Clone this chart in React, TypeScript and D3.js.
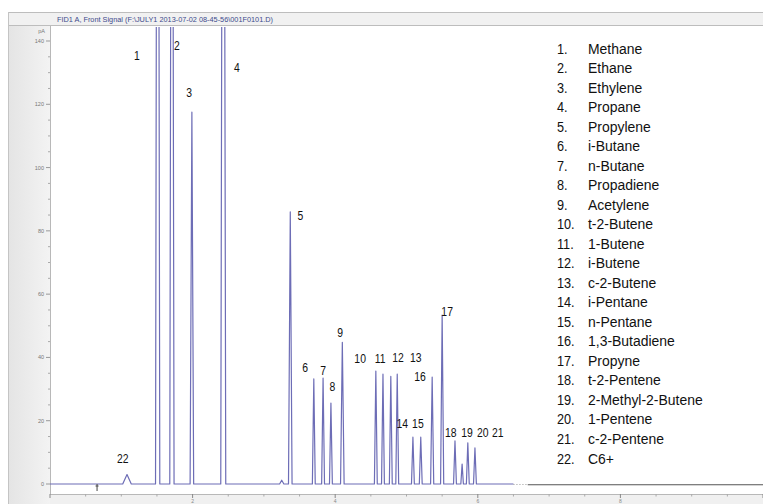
import * as d3 from 'd3';

// compound names in elution order (legend)
const compoundNames = [
  'Methane', 'Ethane', 'Ethylene', 'Propane', 'Propylene', 'i-Butane', 'n-Butane',
  'Propadiene', 'Acetylene', 't-2-Butene', '1-Butene', 'i-Butene', 'c-2-Butene',
  'i-Pentane', 'n-Pentane', '1,3-Butadiene', 'Propyne', 't-2-Pentene',
  '2-Methyl-2-Butene', '1-Pentene', 'c-2-Pentene', 'C6+',
];

// retention time (min), apex height (pA), half base width (min) for peaks 1..22
const peakTimes = [1.51, 1.71, 1.99, 2.43, 3.37, 3.70, 3.83, 3.94, 4.10, 4.57, 4.67, 4.78, 4.87, 5.09, 5.20, 5.36, 5.50, 5.68, 5.78, 5.86, 5.96, 1.08];
const peakHeights = [400, 360, 117.5, 380, 86, 33.2, 33.5, 25.6, 44.8, 35.7, 34.7, 34.0, 34.7, 14.8, 14.8, 33.8, 53.4, 13.6, 6.3, 13.0, 11.4, 3.0];
const peakWidths = [0.03, 0.03, 0.025, 0.035, 0.025, 0.02, 0.02, 0.02, 0.025, 0.02, 0.02, 0.02, 0.02, 0.02, 0.02, 0.022, 0.022, 0.02, 0.018, 0.02, 0.02, 0.06];

// unlabelled minor peaks
const minorTimes = [3.25];
const minorHeights = [1.2];
const minorWidths = [0.03];

// peak number labels (time, pA)
const labelTimes = [1.22, 1.78, 1.95, 2.62, 3.51, 3.58, 3.83, 3.96, 4.07, 4.35, 4.63, 4.88, 5.13, 4.94, 5.16, 5.19, 5.57, 5.62, 5.85, 6.07, 6.28, 1.02];
const labelValues = [135.3, 138.7, 123.6, 131.5, 85.0, 36.7, 36.0, 30.7, 48.0, 39.8, 39.8, 40.1, 40.1, 19.3, 19.3, 34.1, 54.7, 16.4, 16.4, 16.4, 16.4, 8.2];

const yMajorTicks = [0, 20, 40, 60, 80, 100, 120, 140];
const xMajorTicks = [0, 2, 4, 6, 8, 10];
const xTickLabels = [2, 4, 6, 8];
const traceEnd = 6.5;
const injectTime = 0.66;

const W = 763;
const H = 504;
const plotLeft = 50;
const plotTop = 26;
const plotBottom = 494;

const x = d3.scaleLinear().domain([0, 10]).range([plotLeft, W]);
const y = d3.scaleLinear().domain([0, 140]).range([484, 41]);

const sansFont = '"Liberation Sans", Arial, sans-serif';

export default function App() {
  const peaks = peakTimes
    .map((t, i) => ({ t, h: peakHeights[i], w: peakWidths[i] }))
    .concat(minorTimes.map((t, i) => ({ t, h: minorHeights[i], w: minorWidths[i] })))
    .sort((a, b) => a.t - b.t);

  const pts: [number, number][] = [[0, 0]];
  peaks.forEach(p => {
    pts.push([p.t - p.w, 0], [p.t, p.h], [p.t + p.w, 0]);
  });
  pts.push([traceEnd, 0]);

  const line = d3.line<[number, number]>().x(d => x(d[0])).y(d => y(d[1]));

  const yMinor = d3.range(0, 141, 5).filter(v => v % 20 !== 0);
  const xMinor = d3.range(0, 10.01, 0.5).filter(v => v % 2 !== 0);

  return (
    <svg width={W} height={H} style={{ position: 'absolute', left: 0, top: 0, background: '#fff' }}>
      <defs>
        <clipPath id="plotClip">
          <rect x={plotLeft} y={plotTop + 1} width={W - plotLeft} height={plotBottom - plotTop - 1} />
        </clipPath>
        <linearGradient id="panelGrad" x1="0" x2="1" y1="0" y2="0">
          <stop offset="0" stopColor="#e4e4e4" />
          <stop offset="1" stopColor="#f3f3f3" />
        </linearGradient>
      </defs>

      {/* header bar */}
      <rect x={8} y={12} width={W - 8} height={14} fill="#f1f1f1" />
      <line x1={8} x2={W} y1={12.5} y2={12.5} stroke="#bdbdbd" />
      <line x1={8} x2={W} y1={25.5} y2={25.5} stroke="#bdbdbd" />
      <text x={57} y={21.5} fontFamily={sansFont} fontSize={7} fill="#3d4a8c"
        textLength={216} lengthAdjust="spacingAndGlyphs">
        FID1 A, Front Signal (F:\JULY1 2013-07-02 08-45-56\001F0101.D)
      </text>

      {/* left axis panel */}
      <rect x={8} y={26} width={plotLeft - 8} height={H - 26} fill="url(#panelGrad)" />
      <line x1={8.5} x2={8.5} y1={12} y2={H} stroke="#c4c4c4" />
      <line x1={plotLeft + 0.5} x2={plotLeft + 0.5} y1={26} y2={plotBottom} stroke="#b8b8b8" />

      {/* bottom axis panel */}
      <rect x={plotLeft} y={plotBottom} width={W - plotLeft} height={H - plotBottom} fill="#f0f0f0" />
      <line x1={plotLeft} x2={W} y1={plotBottom + 0.5} y2={plotBottom + 0.5} stroke="#b8b8b8" />

      <text x={45} y={33} textAnchor="end" fontFamily={sansFont} fontSize={5.5} fill="#777">pA</text>
      {yMajorTicks.map(v => (
        <g key={'ym' + v}>
          <line x1={46} x2={plotLeft} y1={y(v)} y2={y(v)} stroke="#999" />
          <text x={44} y={y(v) + 2} textAnchor="end" fontFamily={sansFont} fontSize={5.5} fill="#777">{v}</text>
        </g>
      ))}
      {yMinor.map(v => (
        <line key={'yn' + v} x1={48} x2={plotLeft} y1={y(v)} y2={y(v)} stroke="#aaa" />
      ))}

      {xMajorTicks.map(v => (
        <line key={'xm' + v} x1={x(v)} x2={x(v)} y1={plotBottom} y2={plotBottom + 4} stroke="#888" />
      ))}
      {xTickLabels.map(v => (
        <text key={'xl' + v} x={x(v)} y={503} textAnchor="middle" fontFamily={sansFont} fontSize={5} fill="#888">{v}</text>
      ))}
      {xMinor.map(v => (
        <line key={'xn' + v} x1={x(v)} x2={x(v)} y1={plotBottom} y2={plotBottom + 2.5} stroke="#aaa" />
      ))}

      {/* signal */}
      <g clipPath="url(#plotClip)">
        <path d={line(pts) ?? ''} fill="none" stroke="#6d6db6" strokeWidth={1.2} strokeLinejoin="round" />
      </g>
      <line x1={x(traceEnd)} x2={x(traceEnd + 0.2)} y1={y(0) + 0.5} y2={y(0) + 0.5} stroke="#999" strokeDasharray="1,2" />
      <line x1={x(traceEnd + 0.2)} x2={W} y1={y(0) + 0.8} y2={y(0) + 0.8} stroke="#555" strokeWidth={1.1} />

      {/* injection marker */}
      <line x1={x(injectTime)} x2={x(injectTime)} y1={y(0)} y2={y(0) + 7} stroke="#444" />
      <line x1={x(injectTime) - 1.5} x2={x(injectTime) + 1.5} y1={y(0) + 2} y2={y(0) + 2} stroke="#444" />

      {/* peak numbers */}
      {labelTimes.map((t, i) => (
        <text key={'pl' + i} transform={`translate(${x(t)},${y(labelValues[i]) + 4.6}) scale(0.8,1)`}
          textAnchor="middle" fontFamily={sansFont} fontSize={13} fill="#111">{i + 1}</text>
      ))}

      {/* legend */}
      {compoundNames.map((name, i) => (
        <g key={'lg' + i} transform={`translate(0, ${48 + i * 19.52 + 5.6})`}>
          <text transform="translate(557,0) scale(0.82,1)" fontFamily={sansFont} fontSize={15.5} fill="#111">{`${i + 1}.`}</text>
          <text transform="translate(588,0) scale(0.9,1)" fontFamily={sansFont} fontSize={15.5} fill="#111">{name}</text>
        </g>
      ))}
    </svg>
  );
}
